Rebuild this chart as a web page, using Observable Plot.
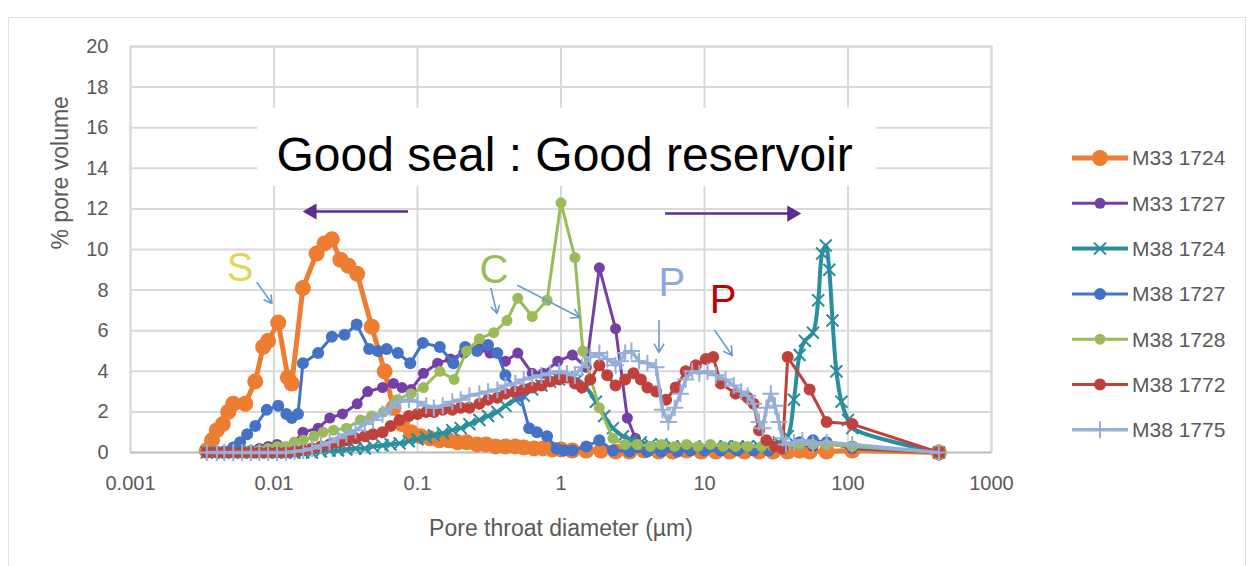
<!DOCTYPE html>
<html><head><meta charset="utf-8">
<script src="https://cdn.jsdelivr.net/npm/d3@7"></script>
<script src="https://cdn.jsdelivr.net/npm/@observablehq/plot@0.6"></script>
<style>
html,body{margin:0;padding:0;background:#fff;}
#wrap{position:relative;width:1254px;height:566px;overflow:hidden;background:#fff;}
#frame{position:absolute;left:8px;top:17px;width:1238px;height:560px;border:1px solid #e2e2e2;box-sizing:border-box;pointer-events:none;}
</style></head><body>
<div id="wrap"><div id="frame"></div></div>
<script>
// ---------- axis ticks ----------
const xTicks = [0.001, 0.01, 0.1, 1, 10, 100, 1000];
const xTickLabels = ["0.001", "0.01", "0.1", "1", "10", "100", "1000"];
const yTicks = [0, 2, 4, 6, 8, 10, 12, 14, 16, 18, 20];
const xTitle = "Pore throat diameter (µm)";
const yTitle = "% pore volume";

// ---------- series: [pore throat diameter µm, % pore volume] ----------
const seriesNames = ["M33 1724", "M33 1727", "M38 1724", "M38 1727", "M38 1728", "M38 1772", "M38 1775"];

const m33_1724 = [[0.0034,0.1],[0.0037,0.6],[0.0040,1.1],[0.0044,1.4],[0.0048,2.0],[0.0052,2.4],[0.0063,2.4],[0.0074,3.5],[0.0084,5.2],[0.0091,5.5],[0.0107,6.4],[0.0125,3.7],[0.0133,3.4],[0.0159,8.1],[0.0198,9.8],[0.0225,10.3],[0.0253,10.5],[0.029,9.5],[0.033,9.2],[0.038,8.8],[0.048,6.2],[0.059,4.0],[0.068,2.2],[0.078,1.4],[0.09,1.0],[0.105,0.8],[0.122,0.7],[0.142,0.6],[0.165,0.6],[0.19,0.5],[0.22,0.5],[0.26,0.4],[0.30,0.4],[0.35,0.3],[0.41,0.3],[0.48,0.3],[0.55,0.25],[0.65,0.2],[0.75,0.2],[0.87,0.15],[1.0,0.15],[1.2,0.1],[1.5,0.1],[1.9,0.1],[2.4,0.05],[3.0,0.05],[3.8,0.1],[4.8,0.05],[6.0,0.05],[7.5,0.1],[9.5,0.05],[12,0.05],[15,0.05],[19,0.05],[24,0.05],[30,0.05],[38,0.05],[46,0.1],[54,0.05],[71,0.05],[107,0.1],[430,0]];

const m33_1727 = [[0.0034,0],[0.0040,0],[0.0045,0],[0.0052,0],[0.006,0.05],[0.0069,0.1],[0.0079,0.2],[0.0091,0.3],[0.0105,0.4],[0.0121,0.2],[0.0139,0.5],[0.0159,1.0],[0.0203,1.2],[0.0245,1.7],[0.030,1.9],[0.038,2.4],[0.045,3.0],[0.057,3.2],[0.068,3.4],[0.078,3.2],[0.09,3.1],[0.11,3.9],[0.138,4.4],[0.17,4.6],[0.21,4.9],[0.27,5.1],[0.32,4.9],[0.41,4.5],[0.5,4.9],[0.63,3.9],[0.75,3.9],[0.95,4.5],[1.2,4.8],[1.5,4.2],[1.85,9.1],[2.4,6.1],[2.9,1.7],[3.3,0.7],[4.0,0.3],[5.0,0.2],[6.3,0.15],[8.0,0.1],[10,0.1],[13,0.1],[17,0.1],[22,0.1],[28,0.1],[35,0.2],[46,0.4],[57,0.3],[71,0.5],[107,0.2],[430,0]];

const m38_1724 = [[0.0034,0],[0.0040,0],[0.0045,0],[0.0052,0],[0.006,0],[0.0069,0],[0.0079,0],[0.0091,0],[0.0105,0],[0.0121,0],[0.0139,0],[0.016,0],[0.0184,0],[0.0212,0.05],[0.0244,0.1],[0.028,0.1],[0.032,0.15],[0.037,0.2],[0.043,0.2],[0.049,0.3],[0.057,0.35],[0.065,0.4],[0.075,0.45],[0.087,0.55],[0.1,0.65],[0.115,0.75],[0.13,0.85],[0.15,0.95],[0.175,1.1],[0.2,1.2],[0.23,1.4],[0.27,1.6],[0.31,1.8],[0.36,2.0],[0.41,2.3],[0.48,2.6],[0.55,2.8],[0.63,3.1],[0.73,3.3],[0.84,3.5],[0.97,3.6],[1.1,3.7],[1.3,3.6],[1.5,3.2],[1.75,2.5],[2.0,1.8],[2.3,1.2],[2.7,0.8],[3.1,0.6],[3.6,0.5],[4.2,0.4],[5.0,0.4],[6.0,0.3],[7.0,0.3],[8.5,0.3],[10,0.3],[12,0.3],[14,0.3],[17,0.3],[20,0.3],[24,0.3],[28,0.4],[33,0.5],[38,0.8],[42,2.6],[46,4.8],[50,5.5],[57,5.9],[62,7.5],[66,9.8],[70,10.2],[74,9.0],[78,6.5],[83,4.0],[90,2.5],[100,1.6],[107,1.2],[430,0]];

const m38_1727 = [[0.0034,0],[0.0040,0],[0.0045,0.05],[0.0052,0.25],[0.0058,0.5],[0.0065,0.9],[0.0074,1.3],[0.0089,2.1],[0.0107,2.3],[0.0122,1.9],[0.0133,1.7],[0.0147,1.9],[0.0159,4.4],[0.0203,4.9],[0.0253,5.7],[0.031,5.8],[0.0377,6.3],[0.046,5.1],[0.053,5.0],[0.061,5.1],[0.073,4.9],[0.089,4.4],[0.109,5.4],[0.143,5.2],[0.178,4.4],[0.215,5.2],[0.26,5.0],[0.31,5.3],[0.36,4.9],[0.41,3.8],[0.52,2.8],[0.6,1.2],[0.68,1.0],[0.8,0.8],[0.93,0.2],[1.05,0.1],[1.2,0.1],[1.5,0.3],[1.85,0.6],[2.3,0.1],[3.0,0.05],[4.0,0.05],[5.0,0.05],[6.5,0.05],[8.0,0.1],[10,0.1],[13,0.1],[17,0.1],[22,0.1],[28,0.1],[35,0.2],[46,0.5],[57,0.6],[71,0.5],[107,0.3],[430,0]];

const m38_1728 = [[0.0034,0],[0.0040,0],[0.0045,0],[0.0052,0],[0.006,0],[0.0069,0.05],[0.0079,0.1],[0.0091,0.2],[0.0105,0.3],[0.0121,0.3],[0.0139,0.5],[0.016,0.6],[0.019,0.8],[0.022,1.0],[0.026,1.1],[0.032,1.2],[0.040,1.6],[0.048,1.8],[0.058,2.0],[0.072,2.6],[0.09,2.9],[0.11,3.2],[0.143,4.0],[0.18,3.6],[0.22,5.0],[0.27,5.6],[0.34,5.9],[0.42,6.5],[0.5,7.6],[0.63,6.7],[0.8,7.5],[1.0,12.3],[1.25,9.6],[1.42,5.0],[1.85,2.2],[2.3,0.7],[2.8,0.4],[3.4,0.4],[4.2,0.3],[5.0,0.4],[6.2,0.3],[7.5,0.4],[9.0,0.3],[11,0.4],[13.5,0.3],[16.5,0.3],[20,0.3],[25,0.3],[30,0.3],[37,0.3],[46,0.4],[57,0.4],[71,0.4],[107,0.3],[430,0]];

const m38_1772 = [[0.0034,0],[0.0040,0],[0.0045,0],[0.0052,0],[0.006,0],[0.0069,0],[0.0079,0],[0.0091,0],[0.0105,0],[0.0121,0],[0.0139,0.05],[0.016,0.1],[0.0184,0.2],[0.0212,0.3],[0.0244,0.4],[0.028,0.5],[0.032,0.6],[0.037,0.7],[0.043,0.8],[0.049,0.9],[0.057,1.0],[0.065,1.3],[0.075,1.6],[0.087,1.8],[0.1,1.9],[0.115,2.0],[0.13,2.0],[0.15,2.1],[0.175,2.1],[0.2,2.2],[0.23,2.2],[0.27,2.4],[0.31,2.6],[0.36,2.7],[0.41,2.9],[0.48,3.0],[0.55,3.1],[0.63,3.2],[0.73,3.3],[0.84,3.5],[0.97,3.6],[1.1,3.7],[1.25,3.4],[1.4,3.2],[1.6,3.6],[1.85,4.3],[2.1,3.8],[2.4,3.3],[2.8,3.6],[3.2,3.9],[3.6,3.6],[4.0,3.2],[4.6,3.0],[5.4,2.6],[6.3,3.2],[7.4,4.0],[8.7,4.3],[10.2,4.6],[11.5,4.7],[13,3.4],[16.5,2.9],[20,2.7],[22,2.4],[24,1.1],[27,0.6],[31,0.3],[35,0.2],[38,4.7],[54,3.1],[71,1.5],[107,1.4],[430,0]];

const m38_1775 = [[0.0034,0],[0.0040,0],[0.0045,0],[0.0052,0],[0.006,0],[0.0069,0],[0.0079,0],[0.0091,0],[0.0105,0],[0.0121,0],[0.0139,0.05],[0.016,0.1],[0.0184,0.2],[0.0212,0.35],[0.0244,0.5],[0.028,0.7],[0.032,0.9],[0.037,1.1],[0.043,1.4],[0.049,1.6],[0.057,1.9],[0.065,2.2],[0.075,2.5],[0.087,2.6],[0.1,2.5],[0.115,2.3],[0.13,2.2],[0.15,2.3],[0.175,2.5],[0.2,2.6],[0.23,2.8],[0.27,2.9],[0.31,3.0],[0.36,3.1],[0.41,3.3],[0.48,3.4],[0.55,3.6],[0.63,3.7],[0.73,3.8],[0.84,3.9],[0.97,4.0],[1.1,3.9],[1.25,3.8],[1.4,4.2],[1.6,4.7],[1.85,4.9],[2.1,4.6],[2.4,4.3],[2.6,4.5],[2.8,4.9],[3.1,5.0],[3.5,4.5],[4.0,4.4],[4.6,4.2],[5.1,2.1],[5.6,1.5],[6.2,2.2],[6.8,2.9],[7.4,3.6],[8.2,4.0],[9.2,3.9],[10.5,4.0],[12,3.8],[14,3.6],[16,3.3],[18,3.0],[20,2.8],[22,2.4],[24,1.5],[25.5,1.2],[27,2.2],[29,2.9],[31,2.3],[33,1.5],[35,0.7],[37,0.4],[42,0.5],[48,0.6],[57,0.4],[71,0.5],[107,0.4],[430,0]];

const seriesData = [m33_1724, m33_1727, m38_1724, m38_1727, m38_1728, m38_1772, m38_1775];

// ---------- annotations (data coordinates) ----------
const bannerText = "Good seal : Good reservoir";
const bannerBox = [{x1: 0.0077, x2: 159, y1: 13.1, y2: 16.95}];
const bannerAnchor = [{x: 1.06, y: 14.6}];
const bigArrowShafts = [{x1: 0.0859, x2: 0.0181, y: 11.87}, {x1: 5.31, x2: 41.4, y: 11.77}];
const bigArrowHeads = [{x: 0.0159, y: 11.87, dir: "left"}, {x: 47, y: 11.77, dir: "right"}];
const letterLabels = [
  {t: "S", x: 0.0058, y: 9.1, c: "#e0d65a", w: "normal"},
  {t: "C", x: 0.341, y: 8.97, c: "#9bbb59", w: "normal"},
  {t: "P", x: 5.93, y: 8.33, c: "#8eaadb", w: "normal"},
  {t: "P", x: 13.5, y: 7.49, c: "#c00000", w: "bold"}
];
const pointerArrows = [
  {x1: 0.00762, y1: 8.37, x2: 0.00968, y2: 7.34},
  {x1: 0.325, y1: 8.08, x2: 0.358, y2: 6.85},
  {x1: 0.501, y1: 8.23, x2: 1.355, y2: 6.65},
  {x1: 4.82, y1: 6.5, x2: 4.82, y2: 4.93},
  {x1: 11.8, y1: 6.01, x2: 15.6, y2: 4.78}
];

// ---------- styles ----------
const seriesStyle = [
  {stroke: "#ed7d31", width: 5, symbol: "circle", r: 8},
  {stroke: "#7440a6", width: 3, symbol: "circle", r: 5.5},
  {stroke: "#2a8e9e", width: 4, symbol: "times", r: 5.5, curve: "catmull-rom"},
  {stroke: "#4472c4", width: 3, symbol: "circle", r: 6},
  {stroke: "#9bbb59", width: 3, symbol: "circle", r: 5.5},
  {stroke: "#c0413c", width: 3, symbol: "circle", r: 6},
  {stroke: "#95afd8", width: 3.5, symbol: "plus", r: 5.5}
];
const FONT = "'Liberation Sans', Arial, sans-serif";
const GRID = "#d9d9d9";
const ARROW_PURPLE = "#5b2d8e";
const POINTER = "#6a9bd2";

const seriesMarks = [];
seriesData.forEach((data, i) => {
  const s = seriesStyle[i];
  seriesMarks.push(Plot.line(data, {x: d => d[0], y: d => d[1], stroke: s.stroke, strokeWidth: s.width, curve: s.curve || "linear"}));
  if (s.symbol === "circle") {
    seriesMarks.push(Plot.dot(data, {x: d => d[0], y: d => d[1], symbol: "circle", r: s.r, fill: s.stroke, stroke: "none"}));
  } else {
    seriesMarks.push(Plot.dot(data, {x: d => d[0], y: d => d[1], symbol: s.symbol, r: s.r, stroke: s.stroke, strokeWidth: 2, fill: "none"}));
  }
});

const chart = Plot.plot({
  width: 1254,
  height: 566,
  marginLeft: 130,
  marginRight: 263,
  marginTop: 46,
  marginBottom: 114,
  style: {fontFamily: FONT, fontSize: "20px", color: "#595959", background: "transparent", overflow: "visible"},
  x: {type: "log", domain: [0.001, 1000]},
  y: {domain: [0, 20]},
  marks: [
    Plot.gridY({ticks: yTicks, stroke: GRID, strokeOpacity: 1, strokeWidth: 2}),
    Plot.gridX({ticks: xTicks, stroke: GRID, strokeOpacity: 1, strokeWidth: 2}),
    Plot.frame({stroke: GRID, strokeWidth: 2}),
    Plot.ruleY([0], {stroke: "#bfbfbf", strokeWidth: 1.5}),
    Plot.axisY({ticks: yTicks, tickSize: 0, tickPadding: 22, label: null}),
    Plot.axisX({ticks: xTicks, tickSize: 0, tickPadding: 23, label: null, tickFormat: d => xTickLabels[xTicks.indexOf(d)]}),
    Plot.text([yTitle], {frameAnchor: "left", dx: -70, rotate: -90, fontSize: 23, fill: "#595959"}),
    Plot.text([xTitle], {frameAnchor: "bottom", lineAnchor: "middle", dy: 76, fontSize: 23, fill: "#595959"}),
    Plot.rect(bannerBox, {x1: "x1", x2: "x2", y1: "y1", y2: "y2", fill: "white"}),
    Plot.text(bannerAnchor, {x: "x", y: "y", text: () => bannerText, fontSize: 48, fill: "black", lineAnchor: "middle"}),
    Plot.link(bigArrowShafts, {x1: "x1", x2: "x2", y1: "y", y2: "y", stroke: ARROW_PURPLE, strokeWidth: 2.5}),
    Plot.dot(bigArrowHeads.filter(d => d.dir === "left"), {x: "x", y: "y", symbol: "triangle", r: 6, fill: ARROW_PURPLE, rotate: -90, dx: 9}),
    Plot.dot(bigArrowHeads.filter(d => d.dir === "right"), {x: "x", y: "y", symbol: "triangle", r: 6, fill: ARROW_PURPLE, rotate: 90, dx: -9}),
    ...seriesMarks,
    Plot.arrow(pointerArrows, {x1: "x1", y1: "y1", x2: "x2", y2: "y2", stroke: POINTER, strokeWidth: 1.6, headLength: 9}),
    Plot.text(letterLabels, {x: "x", y: "y", text: "t", fill: "c", fontWeight: "w", fontSize: 40, lineAnchor: "middle"})
  ]
});
document.getElementById("wrap").prepend(chart);

// ---------- legend ----------
const leg = d3.select("#wrap").append("svg")
  .attr("width", 1254).attr("height", 566)
  .style("position", "absolute").style("left", "0px").style("top", "0px")
  .style("pointer-events", "none");
seriesNames.forEach((name, i) => {
  const s = seriesStyle[i];
  const y = 158 + i * 45.3;
  const g = leg.append("g").attr("transform", `translate(0,${y})`);
  g.append("line").attr("x1", 1072).attr("x2", 1128).attr("y1", 0).attr("y2", 0)
    .attr("stroke", s.stroke).attr("stroke-width", s.width);
  const sym = s.symbol === "circle" ? d3.symbolCircle : s.symbol === "times" ? d3.symbolTimes : d3.symbolPlus;
  const p = g.append("path").attr("transform", "translate(1100,0)")
    .attr("d", d3.symbol(sym, Math.PI * s.r * s.r)());
  if (s.symbol === "circle") p.attr("fill", s.stroke);
  else p.attr("fill", "none").attr("stroke", s.stroke).attr("stroke-width", 2);
  g.append("text").attr("x", 1132).attr("y", 0).attr("dy", "0.35em")
    .attr("font-family", FONT).attr("font-size", 21).attr("fill", "#595959").text(name);
});
</script>
</body></html>
